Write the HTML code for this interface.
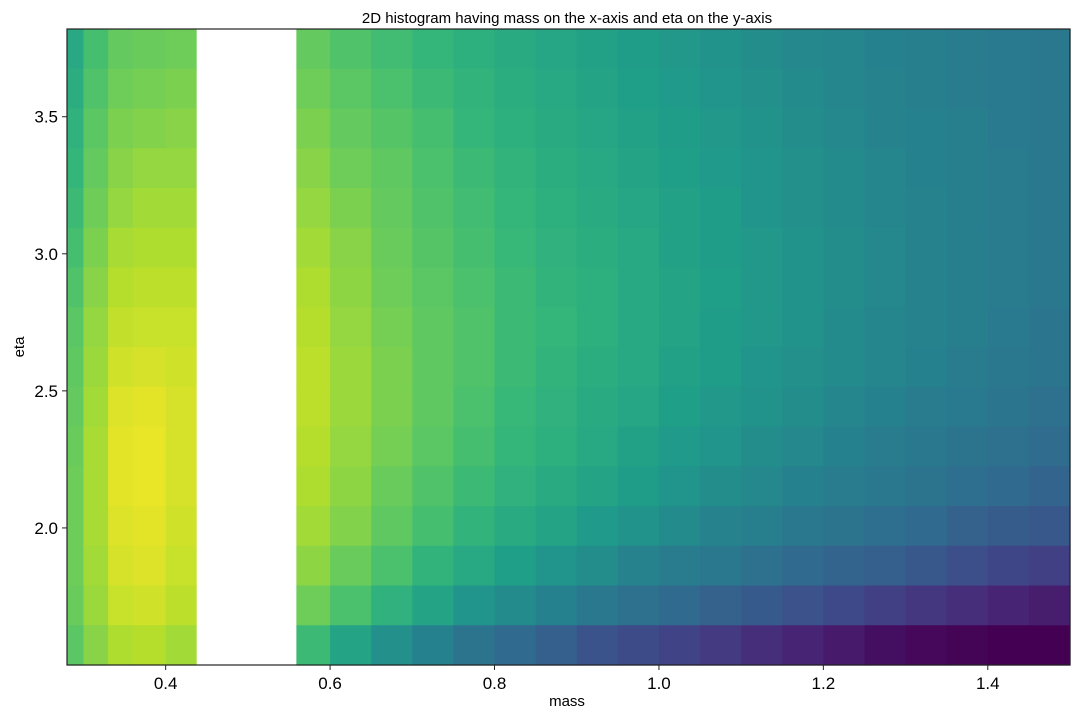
<!DOCTYPE html>
<html><head><meta charset="utf-8">
<style>
body{margin:0;background:#fff;width:1080px;height:720px;overflow:hidden;font-family:"Liberation Sans",sans-serif}
</style></head>
<body>
<svg id="chart" width="1080" height="720" xmlns="http://www.w3.org/2000/svg" font-family="Liberation Sans, sans-serif">
<text x="567" y="23" font-size="15" text-anchor="middle">2D histogram having mass on the x-axis and eta on the y-axis</text>
<g id="cells"></g>
<g id="axes"></g>
<text x="567" y="706" font-size="15" text-anchor="middle">mass</text>
<text transform="translate(24,347) rotate(-90)" font-size="15" text-anchor="middle">eta</text>
</svg>
<script>
const xEdges=[0.28,0.30,0.33,0.36,0.40,0.437,0.559,0.60,0.65,0.70,0.75,0.80,0.85,0.90,0.95,1.0,1.05,1.1,1.15,1.2,1.25,1.3,1.35,1.4,1.45,1.5];
const yEdges=[3.82,3.675,3.53,3.385,3.24,3.095,2.95,2.805,2.66,2.515,2.37,2.225,2.08,1.935,1.79,1.645,1.5];
const n=null;
const values=[
[60,70,76,77,78,n,76,72,69,66,63,61,59,57,55,53,51,49,47,46,44,43,42,41,40],
[62,72,78,79,80,n,78,74,71,68,65,62,60,58,56,54,52,50,48,46,45,43,42,41,40],
[64,74,80,81,82,n,80,76,73,70,66,63,61,59,57,55,53,51,49,47,45,44,43,41,40],
[66,76,82,84,84,n,82,78,75,71,68,65,62,60,58,56,54,52,50,48,46,44,43,42,40],
[68,78,84,86,86,n,84,80,76,72,69,66,63,61,59,57,55,52,50,48,46,45,43,42,40],
[70,80,87,88,88,n,86,82,77,73,70,67,64,62,60,57,55,53,51,49,47,45,43,42,40],
[72,82,89,90,90,n,88,83,78,74,71,68,65,63,60,58,56,53,51,49,47,45,43,42,40],
[74,84,91,92,92,n,89,84,79,75,72,68,66,63,60,58,55,53,51,48,46,45,43,41,39],
[75,85,93,94,93,n,90,85,80,75,72,68,65,62,60,57,55,52,50,48,46,44,42,40,39],
[76,86,95,96,94,n,90,85,80,75,71,67,64,61,59,56,53,51,49,46,44,42,41,39,37],
[77,87,96,97,94,n,89,84,79,74,70,66,63,60,57,54,52,49,47,44,42,40,38,37,35],
[78,87,96,97,94,n,88,83,77,72,68,64,61,58,55,52,49,47,44,42,40,38,36,34,32],
[78,87,95,96,93,n,86,81,75,70,65,61,58,54,51,48,45,43,40,38,36,34,31,29,27],
[78,86,94,95,92,n,83,77,71,65,60,56,52,49,45,42,40,37,34,32,30,27,24,21,19],
[77,85,92,93,90,n,78,71,64,58,52,48,44,40,37,34,31,28,25,22,19,16,13,10,8],
[74,82,88,89,86,n,68,58,50,44,38,34,30,26,23,20,17,13,10,7,4,2,1,0,0]
];
const xTicks=[0.4,0.6,0.8,1.0,1.2,1.4];
const xTickLabels=["0.4","0.6","0.8","1.0","1.2","1.4"];
const yTicks=[2.0,2.5,3.0,3.5];
const yTickLabels=["2.0","2.5","3.0","3.5"];
const L=67,T=29,W=1003,H=636,X0=0.28,X1=1.5,Y0=1.5,Y1=3.82;
function sx(v){return L+(v-X0)/(X1-X0)*W;}
function sy(v){return T+H-(v-Y0)/(Y1-Y0)*H;}
const vir=[[68,1,84],[72,40,120],[62,74,137],[49,104,142],[38,130,142],[31,158,137],[53,183,121],[109,205,89],[180,222,44],[253,231,37]];
function viridis(t){t=Math.max(0,Math.min(1,t))*9;const i=Math.min(8,Math.floor(t)),f=t-i;const a=vir[i],b=vir[i+1];
return `rgb(${Math.round(a[0]+(b[0]-a[0])*f)},${Math.round(a[1]+(b[1]-a[1])*f)},${Math.round(a[2]+(b[2]-a[2])*f)})`;}
const NS="http://www.w3.org/2000/svg";
const cg=document.getElementById('cells');
for(let r=0;r<values.length;r++){for(let c=0;c<values[r].length;c++){
 const v=values[r][c]; if(v===null) continue;
 const x1=sx(xEdges[c]),x2=sx(xEdges[c+1]),y1=sy(yEdges[r]),y2=sy(yEdges[r+1]);
 const rc=document.createElementNS(NS,'rect');
 rc.setAttribute('x',x1.toFixed(2));rc.setAttribute('y',y1.toFixed(2));
 rc.setAttribute('width',(x2-x1+0.6).toFixed(2));rc.setAttribute('height',(y2-y1+0.6).toFixed(2));
 rc.setAttribute('fill',viridis(v/100));
 
 
 cg.appendChild(rc);
}}
const ag=document.getElementById('axes');
const fr=document.createElementNS(NS,'rect');
fr.setAttribute('x',L);fr.setAttribute('y',T);fr.setAttribute('width',W);fr.setAttribute('height',H);
fr.setAttribute('fill','none');fr.setAttribute('stroke','#222');fr.setAttribute('stroke-width','1.2');


ag.appendChild(fr);
xTicks.forEach((t,i)=>{const x=sx(t);
 const ln=document.createElementNS(NS,'line');ln.setAttribute('x1',x);ln.setAttribute('x2',x);ln.setAttribute('y1',T+H);ln.setAttribute('y2',T+H+5);ln.setAttribute('stroke','#222');
 
 
 ag.appendChild(ln);
 const tx=document.createElementNS(NS,'text');tx.setAttribute('x',x);tx.setAttribute('y',T+H+24);tx.setAttribute('font-size','17');tx.setAttribute('text-anchor','middle');tx.textContent=xTickLabels[i];
 
 
 ag.appendChild(tx);});
yTicks.forEach((t,i)=>{const y=sy(t);
 const ln=document.createElementNS(NS,'line');ln.setAttribute('x1',L-5);ln.setAttribute('x2',L);ln.setAttribute('y1',y);ln.setAttribute('y2',y);ln.setAttribute('stroke','#222');
 
 
 ag.appendChild(ln);
 const tx=document.createElementNS(NS,'text');tx.setAttribute('x',L-9);tx.setAttribute('y',y+6);tx.setAttribute('font-size','17');tx.setAttribute('text-anchor','end');tx.textContent=yTickLabels[i];
 
 
 ag.appendChild(tx);});
</script>
</body></html>
